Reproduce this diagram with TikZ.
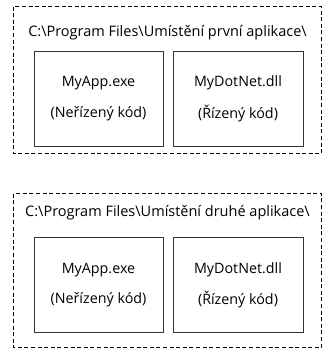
\documentclass[tikz,border=0pt]{standalone}
\usepackage{fontspec}
\setmainfont{Open Sans}
\begin{document}
\begin{tikzpicture}[x=1pt,y=-1pt,
  outer/.style={draw=black,line width=0.9pt,dash pattern=on 4pt off 2.6pt},
  inner/.style={draw=black!80,line width=0.9pt},
  lbl/.style={font=\fontsize{14.3}{16}\selectfont,inner sep=0pt,anchor=center},
  title/.style={font=\fontsize{14.5}{16}\selectfont,inner sep=0pt,anchor=center}]
\useasboundingbox (0,0) rectangle (323,349);
% top group
\draw[outer] (13.5,6.5) rectangle (321.5,153.5);
\node[title] (t1) at (167.5,32.5) {C:\textbackslash Program Files\textbackslash Umístění první aplikace\textbackslash};
\draw[inner] (34,51) rectangle (163,146);
\draw[inner] (173,51) rectangle (303,146);
\node[lbl] (a1) at (98.5,83) {MyApp.exe};
\node[lbl] (a2) at (98.5,113.5) {(Neřízený kód)};
\node[lbl] (b1) at (238,83) {MyDotNet.dll};
\node[lbl] (b2) at (238,113.5) {(Řízený kód)};
% bottom group
\draw[outer] (13.5,193.5) rectangle (321.5,347.5);
\node[title] (t2) at (167.5,213) {C:\textbackslash Program Files\textbackslash Umístění druhé aplikace\textbackslash};
\draw[inner] (34,237) rectangle (163,332);
\draw[inner] (173,237) rectangle (303,332);
\node[lbl] (c1) at (98.5,270) {MyApp.exe};
\node[lbl] (c2) at (98.5,299.5) {(Neřízený kód)};
\node[lbl] (d1) at (238,270) {MyDotNet.dll};
\node[lbl] (d2) at (238,299.5) {(Řízený kód)};
\end{tikzpicture}
\end{document}
